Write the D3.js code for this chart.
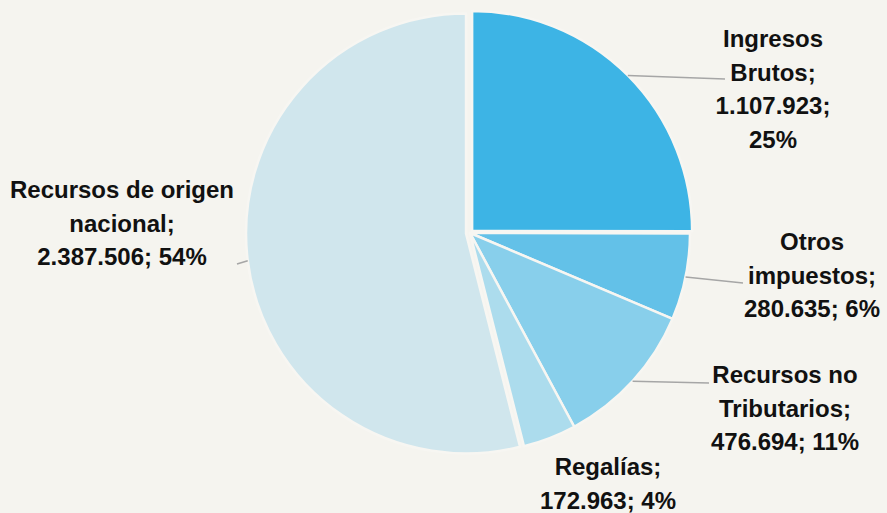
<!DOCTYPE html>
<html>
<head>
<meta charset="utf-8">
<script src="https://cdn.jsdelivr.net/npm/d3@7"></script>
<style>
  html, body { margin: 0; padding: 0; background: #f5f4ef; }
  svg { display: block; }
</style>
</head>
<body>
<svg id="chart" width="887" height="513"></svg>
<script>
// ---- data ----
const categories = ["Ingresos Brutos", "Otros impuestos", "Recursos no Tributarios", "Regalías", "Recursos de origen nacional"];
const values = [1107923, 280635, 476694, 172963, 2387506];
const labelNames = [["Ingresos", "Brutos;"], ["Otros", "impuestos;"], ["Recursos no", "Tributarios;"], ["Regalías;"], ["Recursos de origen", "nacional;"]];
const colors = ["#3db4e5", "#63c1e8", "#88cfeb", "#acdced", "#d0e6ed"];

// ---- layout (not data) ----
const cx = 470, cy = 233, R = 220;
const explode = [3, 0, 0, 0, 4];
// label center x, first baseline y, leader end point
const labelLayout = [
  { x: 773, y: 47, end: [725, 79], valueSep: "break" },
  { x: 812, y: 250, end: [743, 283], valueSep: "inline" },
  { x: 785, y: 383, end: [709, 383], valueSep: "inline" },
  { x: 608, y: 475, end: null, valueSep: "inline" },
  { x: 122, y: 198, end: [237, 264], valueSep: "inline" }
];
const lineH = 33.5;

const locale = d3.formatLocale({ decimal: ",", thousands: ".", grouping: [3], currency: ["$", ""] });
const fmt = locale.format(",d");
const total = d3.sum(values);

const svg = d3.select("#chart");
const data = categories.map((c, i) => ({ c, v: values[i], i }));
const pie = d3.pie().value(d => d.v).sort(null);
const arcs = pie(data);
const arc = d3.arc().innerRadius(0).outerRadius(R);

const g = svg.append("g").attr("transform", `translate(${cx},${cy})`);

g.selectAll("path.slice").data(arcs).join("path")
  .attr("class", "slice")
  .attr("d", arc)
  .attr("fill", (d, i) => colors[i])
  .attr("stroke", "#f7f6f2")
  .attr("stroke-width", 2.5)
  .attr("stroke-linejoin", "round")
  .attr("transform", (d, i) => {
    const a = (d.startAngle + d.endAngle) / 2;
    return `translate(${explode[i] * Math.sin(a)},${-explode[i] * Math.cos(a)})`;
  });

// leader lines
arcs.forEach((d, i) => {
  const L = labelLayout[i];
  if (!L.end) return;
  const a = (d.startAngle + d.endAngle) / 2;
  const r = R + explode[i];
  const sx = cx + r * Math.sin(a), sy = cy - r * Math.cos(a);
  svg.append("path")
    .attr("d", `M${sx},${sy}L${L.end[0]},${L.end[1]}`)
    .attr("stroke", "#a6a6a6")
    .attr("stroke-width", 1.5)
    .attr("fill", "none");
});

// labels
arcs.forEach((d, i) => {
  const L = labelLayout[i];
  const pct = Math.round(d.value / total * 100) + "%";
  let lines = labelNames[i].slice();
  if (L.valueSep === "break") {
    lines.push(fmt(d.value) + ";", pct);
  } else {
    lines.push(fmt(d.value) + "; " + pct);
  }
  if (i === 4) {
    // "nacional;" line then value line
  }
  const t = svg.append("text")
    .attr("text-anchor", "middle")
    .attr("font-family", "'Liberation Sans', Arial, sans-serif")
    .attr("font-weight", "bold")
    .attr("font-size", 24)
    .attr("fill", "#111");
  lines.forEach((ln, k) => {
    t.append("tspan").attr("x", L.x).attr("y", L.y + k * lineH).text(ln);
  });
});
</script>
</body>
</html>
